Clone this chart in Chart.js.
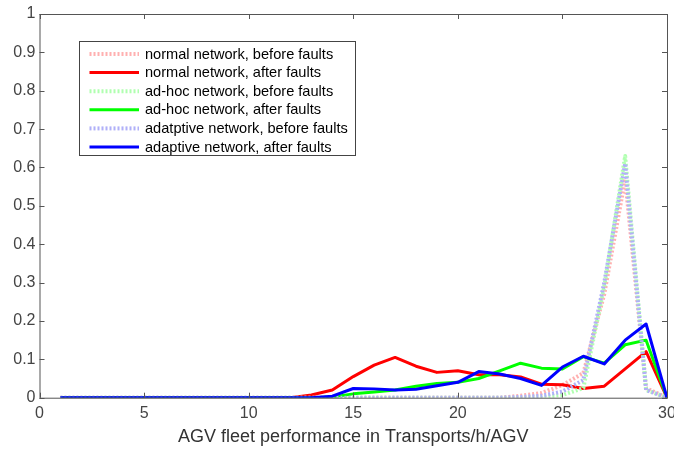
<!DOCTYPE html>
<html lang="en">
<head>
    <meta charset="UTF-8">
    <title>AGV fleet performance</title>
    <script src="https://cdn.jsdelivr.net/npm/chart.js"></script>
    <style>
        body { margin: 0; background: #fff; }
        #wrap { width: 674px; height: 450px; }
    </style>
</head>
<body>
    <div id="wrap"><canvas id="myChart" width="674" height="450"></canvas></div>

    <script>
        // x = transports/h/AGV, 1..30
        const xs = [1, 2, 3, 4, 5, 6, 7, 8, 9, 10, 11, 12, 13, 14, 15, 16, 17, 18, 19, 20, 21, 22, 23, 24, 25, 26, 27, 28, 29, 30];

        const normalBefore = [0, 0, 0, 0, 0, 0, 0, 0, 0, 0, 0, 0, 0, 0, 0, 0, 0, 0, 0, 0, 0, 0, 0.005, 0.012, 0.033, 0.064, 0.27, 0.57, 0.025, 0];
        const normalAfter  = [0, 0, 0, 0, 0, 0, 0, 0, 0, 0, 0, 0, 0.007, 0.02, 0.055, 0.085, 0.105, 0.082, 0.066, 0.07, 0.06, 0.06, 0.054, 0.035, 0.034, 0.024, 0.03, 0.075, 0.12, 0];
        const adhocBefore  = [0, 0, 0, 0, 0, 0, 0, 0, 0, 0, 0, 0, 0, 0, 0, 0, 0, 0, 0, 0, 0, 0, 0, 0.002, 0.007, 0.025, 0.29, 0.63, 0.02, 0];
        const adhocAfter   = [0, 0, 0, 0, 0, 0, 0, 0, 0, 0, 0, 0, 0, 0.002, 0.01, 0.015, 0.02, 0.03, 0.037, 0.04, 0.05, 0.07, 0.09, 0.077, 0.075, 0.107, 0.09, 0.138, 0.15, 0];
        const adaptBefore  = [0, 0, 0, 0, 0, 0, 0, 0, 0, 0, 0, 0, 0, 0, 0, 0, 0, 0, 0, 0, 0, 0, 0.002, 0.005, 0.016, 0.046, 0.30, 0.61, 0.02, 0];
        const adaptAfter   = [0, 0, 0, 0, 0, 0, 0, 0, 0, 0, 0, 0, 0, 0.004, 0.024, 0.023, 0.02, 0.022, 0.031, 0.04, 0.068, 0.062, 0.05, 0.032, 0.08, 0.108, 0.088, 0.15, 0.192, 0];

        const labels = [
            'normal network, before faults',
            'normal network, after faults',
            'ad-hoc network, before faults',
            'ad-hoc network, after faults',
            'adatptive network, before faults',
            'adaptive network, after faults'
        ];

        const xTicks = [0, 5, 10, 15, 20, 25, 30];
        const yTicks = [0, 0.1, 0.2, 0.3, 0.4, 0.5, 0.6, 0.7, 0.8, 0.9, 1];

        const FONT = '"Liberation Sans", Arial, sans-serif';

        const pts = arr => arr.map((v, i) => ({ x: xs[i], y: v }));

        const solid = (label, data, color, order) => ({
            label: label, data: pts(data), borderColor: color, backgroundColor: color,
            borderWidth: 3, borderJoinStyle: 'round', pointRadius: 0, tension: 0, order: order
        });
        const dotted = (label, data, color, order) => ({
            label: label, data: pts(data), borderColor: color, backgroundColor: color,
            borderWidth: 4, borderDash: [2, 2], borderCapStyle: 'butt', borderJoinStyle: 'round',
            pointRadius: 0, tension: 0, order: order
        });

        // axes box + inward ticks, matlab style
        const frame = {
            id: 'frame',
            afterDatasetsDraw(chart) {
                const { ctx, chartArea: a, scales } = chart;
                ctx.save();
                ctx.strokeStyle = '#555';
                ctx.lineWidth = 1;
                ctx.strokeRect(a.left + 0.5, a.top + 0.5, a.right - a.left, a.bottom - a.top);
                ctx.beginPath();
                xTicks.forEach(t => {
                    const px = Math.round(scales.x.getPixelForValue(t)) + 0.5;
                    ctx.moveTo(px, a.bottom); ctx.lineTo(px, a.bottom - 5);
                    ctx.moveTo(px, a.top); ctx.lineTo(px, a.top + 5);
                });
                yTicks.forEach(t => {
                    const py = Math.round(scales.y.getPixelForValue(t)) + 0.5;
                    ctx.moveTo(a.left, py); ctx.lineTo(a.left + 5, py);
                    ctx.moveTo(a.right, py); ctx.lineTo(a.right - 5, py);
                });
                ctx.stroke();
                ctx.restore();
            },
            afterDraw(chart) {
                // legend box in the upper left
                const { ctx } = chart;
                const bx = 79.5, by = 41.5, bw = 276, bh = 114;
                ctx.save();
                ctx.fillStyle = '#fff';
                ctx.fillRect(bx, by, bw, bh);
                ctx.strokeStyle = '#444';
                ctx.lineWidth = 1;
                ctx.strokeRect(bx, by, bw, bh);
                ctx.font = '14.6px ' + FONT;
                ctx.textBaseline = 'middle';
                ctx.fillStyle = '#000';
                chart.data.datasets.forEach((ds, i) => {
                    const y = 54 + i * 18.6;
                    ctx.beginPath();
                    ctx.strokeStyle = ds.borderColor;
                    ctx.lineWidth = ds.borderWidth;
                    ctx.setLineDash(ds.borderDash || []);
                    ctx.moveTo(89.5, y); ctx.lineTo(139, y);
                    ctx.stroke();
                    ctx.setLineDash([]);
                    ctx.fillText(ds.label, 145, y + 0.5);
                });
                ctx.restore();
            }
        };

        const ctx = document.getElementById('myChart').getContext('2d');
        const myChart = new Chart(ctx, {
            type: 'line',
            data: {
                datasets: [
                    dotted(labels[0], normalBefore, '#ffb0b0', 5),
                    solid(labels[1], normalAfter, '#ff0000', 4),
                    dotted(labels[2], adhocBefore, '#b0ffb0', 3),
                    solid(labels[3], adhocAfter, '#00ff00', 2),
                    dotted(labels[4], adaptBefore, '#b0b0f8', 1),
                    solid(labels[5], adaptAfter, '#0000ff', 0)
                ]
            },
            options: {
                responsive: false,
                animation: false,
                layout: { padding: { top: 14, right: 7, left: 0, bottom: 0 } },
                plugins: {
                    legend: { display: false },
                    tooltip: { enabled: false }
                },
                scales: {
                    x: {
                        type: 'linear',
                        min: 0,
                        max: 30,
                        afterBuildTicks: s => { s.ticks = xTicks.map(v => ({ value: v })); },
                        afterFit: s => { s.height = 52.3; s.paddingLeft = 0; s.paddingRight = 0; },
                        grid: { display: false, drawTicks: false },
                        border: { display: false },
                        ticks: {
                            color: '#444',
                            padding: 6,
                            maxRotation: 0,
                            font: { family: FONT, size: 16 },
                            callback: v => String(v)
                        },
                        title: {
                            display: true,
                            text: 'AGV fleet performance in Transports/h/AGV',
                            color: '#333',
                            font: { family: FONT, size: 18 },
                            padding: { top: 0, bottom: 2 }
                        }
                    },
                    y: {
                        min: 0,
                        max: 1,
                        afterBuildTicks: s => { s.ticks = yTicks.map(v => ({ value: v })); },
                        afterFit: s => { s.width = 39.5; s.paddingTop = 0; s.paddingBottom = 0; },
                        grid: { display: false, drawTicks: false },
                        border: { display: false },
                        ticks: {
                            color: '#444',
                            padding: 4,
                            font: { family: FONT, size: 16 },
                            callback: v => String(Math.round(v * 10) / 10)
                        }
                    }
                }
            },
            plugins: [frame]
        });
    </script>
</body>
</html>
